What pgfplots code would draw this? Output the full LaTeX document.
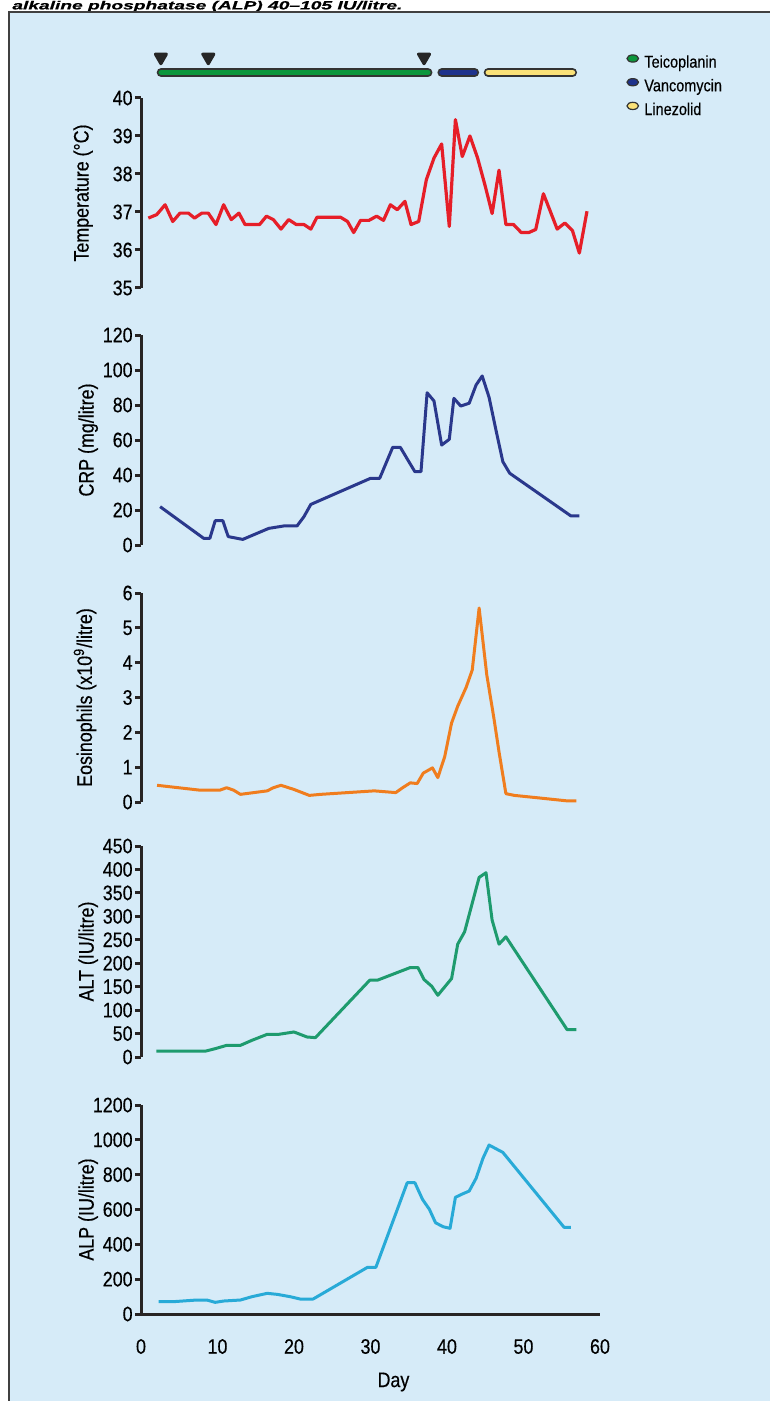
\documentclass[border=0pt]{standalone}
\usepackage{fontspec}
\setmainfont{Liberation Sans}[FakeStretch=0.85, FakeBold=0.4]
\usepackage{pgfplots}
\pgfplotsset{compat=1.18}
\definecolor{bg}{RGB}{214,235,248}
\definecolor{axc}{RGB}{40,36,36}
\definecolor{tred}{RGB}{230,30,40}
\definecolor{crpc}{RGB}{42,56,140}
\definecolor{eosc}{RGB}{240,125,30}
\definecolor{altc}{RGB}{30,155,110}
\definecolor{alpc}{RGB}{40,170,215}
\definecolor{teico}{RGB}{12,150,60}
\definecolor{vanco}{RGB}{30,50,140}
\definecolor{linez}{RGB}{250,225,120}
\newcommand\ticksize{\fontsize{10.5}{12}\selectfont}
\newcommand\legsize{\fontsize{8.5}{10}\selectfont}
\pgfplotsset{
  panel/.style={
    scale only axis, width=229.5pt, xmin=0, xmax=60,
    axis line style={-},
    y axis line style={-, line width=1.5pt, draw=axc},
    ytick style={line width=1.5pt, draw=axc},
    tick align=outside, major tick length=3pt,
    yticklabel style={font=\ticksize, inner sep=1pt},
    ylabel style={font=\ticksize, anchor=center},
    /pgf/number format/assume math mode=true,
    /pgf/number format/1000 sep={},
    clip=false,
    every axis plot/.append style={line width=1.5pt, line join=round, mark=none},
  }
}
\begin{document}
\begin{tikzpicture}
\useasboundingbox (0,0) rectangle (385pt,-700.5pt);
\fill[white] (0,0) rectangle (385pt,-700.5pt);
\node[anchor=base west, inner sep=0pt] at (6pt,-4.7pt) {\resizebox{195pt}{4.3pt}{\bfseries\itshape alkaline phosphatase (ALP) 40--105 IU/litre.}};
\draw[fill=bg, draw=gray!50!black, line width=0.6pt] (4.5pt,-6pt) rectangle (392pt,-706pt);

% Panel 1: temperature
\begin{axis}[axis y line=left, axis x line=none, panel,
  at={(70.5pt,-144pt)}, anchor=south west, height=95pt,
  ymin=35, ymax=40, ytick={35,36,...,40},
  ylabel={Temperature (°C)}, ylabel style={at={(axis description cs:-0.126,0.5)}},
  legend style={at={(rel axis cs:1.0566,1.232)}, anchor=north west, draw=none, fill=none,
    font=\legsize, row sep=3.2pt, inner sep=0pt,
    nodes={inner sep=0pt, text height=6.5pt, text depth=2pt}},
  legend cell align=left]
\addplot[forget plot, tred, line width=1.6pt] coordinates {
(0.96,36.84) (2.05,36.93) (3.15,37.19) (4.15,36.75) (5.1,36.97) (6.2,36.97) (7.0,36.84) (7.95,36.97) (8.8,36.97) (9.8,36.67) (10.8,37.19) (11.8,36.80) (12.8,36.97) (13.6,36.67) (14.6,36.67) (15.5,36.67) (16.4,36.89) (17.3,36.80) (18.3,36.55) (19.3,36.80) (20.3,36.67) (21.3,36.67) (22.2,36.55) (23.0,36.86) (24.1,36.86) (25.1,36.86) (26.1,36.86) (27.0,36.75) (27.8,36.46) (28.7,36.78) (29.8,36.78) (30.8,36.89) (31.7,36.78) (32.6,37.19) (33.5,37.06) (34.5,37.28) (35.3,36.67) (36.3,36.75) (37.3,37.85) (38.3,38.42) (39.3,38.79) (40.3,36.62) (41.1,39.43) (42.0,38.46) (43.0,39.00) (44.0,38.42) (45.0,37.68) (45.9,36.96) (46.8,38.10) (47.7,36.67) (48.7,36.67) (49.7,36.46) (50.7,36.46) (51.6,36.54) (52.6,37.48) (53.5,37.02) (54.4,36.55) (55.4,36.71) (56.4,36.51) (57.3,35.92) (58.3,37.02)};
% treatment bars
\addplot[forget plot, draw=gray!40!black, line width=4.6pt, line cap=round] coordinates {(2.65,40.67) (37.5,40.67)};
\addplot[forget plot, draw=teico, line width=2.8pt, line cap=round] coordinates {(2.65,40.67) (37.5,40.67)};
\addplot[forget plot, draw=gray!40!black, line width=4.6pt, line cap=round] coordinates {(39.35,40.67) (43.6,40.67)};
\addplot[forget plot, draw=vanco, line width=2.8pt, line cap=round] coordinates {(39.35,40.67) (43.6,40.67)};
\addplot[forget plot, draw=gray!40!black, line width=4.6pt, line cap=round] coordinates {(45.4,40.67) (56.4,40.67)};
\addplot[forget plot, draw=linez, line width=2.8pt, line cap=round] coordinates {(45.4,40.67) (56.4,40.67)};
% triangles
\addplot[forget plot, only marks, mark=triangle*, mark size=3.2pt, mark options={rotate=180, fill=gray!30!black, draw=gray!30!black}] coordinates {(2.6,41.07) (8.8,41.07) (37.0,41.07)};
\addlegendimage{legend image code/.code={\draw[fill=teico, draw=gray!40!black, line width=0.6pt] (2.9pt,2.3pt) ellipse [x radius=2.9pt, y radius=1.8pt];}}
\addlegendentry{\hspace{2.6pt}Teicoplanin}
\addlegendimage{legend image code/.code={\draw[fill=vanco, draw=gray!40!black, line width=0.6pt] (2.9pt,2.3pt) ellipse [x radius=2.9pt, y radius=1.8pt];}}
\addlegendentry{\hspace{2.6pt}Vancomycin}
\addlegendimage{legend image code/.code={\draw[fill=linez, draw=gray!40!black, line width=0.6pt] (2.9pt,2.3pt) ellipse [x radius=2.9pt, y radius=1.8pt];}}
\addlegendentry{\hspace{2.6pt}Linezolid}
\end{axis}

% Panel 2: CRP
\begin{axis}[axis y line=left, axis x line=none, panel,
  at={(70.5pt,-272.5pt)}, anchor=south west, height=105pt,
  ymin=0, ymax=120, ytick={0,20,...,120},
  ylabel={CRP (mg/litre)}, ylabel style={at={(axis description cs:-0.115,0.5)}}]
\addplot[crpc] coordinates {
(2.5,21.9) (8.2,3.8) (9.0,3.8) (9.7,13.9) (10.7,13.9) (11.4,4.8) (13.3,3.2) (16.7,9.5) (18.7,10.9) (20.4,10.9) (21.3,16.2) (22.2,23.2) (30.0,38.1) (31.2,38.1) (32.9,55.8) (33.9,55.8) (35.8,41.9) (36.6,41.9) (37.4,87.0) (38.3,82.3) (39.3,57.1) (40.3,60.4) (40.9,83.8) (41.8,79.4) (42.9,81.0) (43.8,91.4) (44.6,96.6) (45.5,84.4) (46.4,65.7) (47.3,47.6) (48.2,41.0) (56.2,16.6) (57.3,16.6)};
\end{axis}

% Panel 3: Eosinophils
\begin{axis}[axis y line=left, axis x line=none, panel,
  at={(70.5pt,-401pt)}, anchor=south west, height=104.5pt,
  ymin=0, ymax=6, ytick={0,1,...,6},
  ylabel={Eosinophils (x10\textsuperscript{9}/litre)}, ylabel style={at={(axis description cs:-0.122,0.5)}}]
\addplot[eosc] coordinates {
(2.1,0.48) (7.7,0.34) (10.3,0.34) (11.2,0.41) (12.1,0.34) (13.0,0.22) (16.5,0.32) (17.3,0.41) (18.3,0.48) (20.0,0.36) (22.0,0.19) (23.5,0.22) (30.5,0.32) (33.3,0.27) (34.2,0.41) (35.2,0.55) (36.1,0.53) (36.9,0.83) (38.1,0.98) (38.8,0.70) (39.7,1.30) (40.6,2.27) (41.4,2.75) (42.5,3.29) (43.3,3.79) (44.2,5.57) (45.2,3.65) (46.1,2.45) (46.8,1.44) (47.7,0.24) (48.8,0.19) (51.9,0.12) (55.8,0.03) (56.9,0.03)};
\end{axis}

% Panel 4: ALT
\begin{axis}[axis y line=left, axis x line=none, panel,
  at={(70.5pt,-528.5pt)}, anchor=south west, height=105.5pt,
  ymin=0, ymax=450, ytick={0,50,...,450},
  ylabel={ALT (IU/litre)}, ylabel style={at={(axis description cs:-0.115,0.5)}}]
\addplot[altc] coordinates {
(2.0,12.8) (8.5,12.8) (9.7,17.8) (11.2,24.9) (13.0,24.9) (14.5,35.6) (16.5,48.4) (18.0,48.4) (20.0,53.4) (21.7,42.7) (22.8,41.3) (29.9,163.8) (30.9,163.8) (35.2,190.8) (36.2,190.8) (37.0,165.2) (38.0,151.0) (38.8,131.7) (39.7,149.5) (40.6,167.3) (41.4,240.7) (42.3,267.0) (44.2,383.1) (45.1,393.0) (45.9,291.9) (46.8,240.7) (47.7,256.3) (55.7,58.4) (56.9,58.4)};
\end{axis}

% Panel 5: ALP
\begin{axis}[axis lines=left, panel,
  at={(70.5pt,-657pt)}, anchor=south west, height=104.5pt,
  x axis line style={-, line width=1.5pt, draw=axc},
  xtick={0,10,...,60}, xtick style={draw=none},
  xticklabel style={font=\ticksize, anchor=north, yshift=-6pt},
  xlabel={Day}, xlabel style={font=\ticksize, at={(rel axis cs:0.55,0)}, anchor=center, yshift=-34pt},
  ymin=0, ymax=1200, ytick={0,200,...,1200},
  ylabel={ALP (IU/litre)}, ylabel style={at={(axis description cs:-0.115,0.5)}}]
\addplot[alpc] coordinates {
(2.3,70.8) (4.2,70.8) (7.3,80.4) (8.6,80.4) (9.7,67) (10.8,74.6) (13.0,80.4) (14.5,99.5) (16.5,118.7) (17.8,112.9) (19.5,99.5) (20.8,86.1) (22.5,86.1) (29.6,267.9) (30.7,267.9) (34.8,754) (35.8,754) (36.8,658) (37.7,601) (38.5,524) (39.5,501) (40.4,492) (41.1,670) (42.0,689) (42.9,706) (43.8,779) (44.7,894) (45.5,970) (47.3,928) (55.3,498) (56.2,498)};
\end{axis}
\end{tikzpicture}
\end{document}
